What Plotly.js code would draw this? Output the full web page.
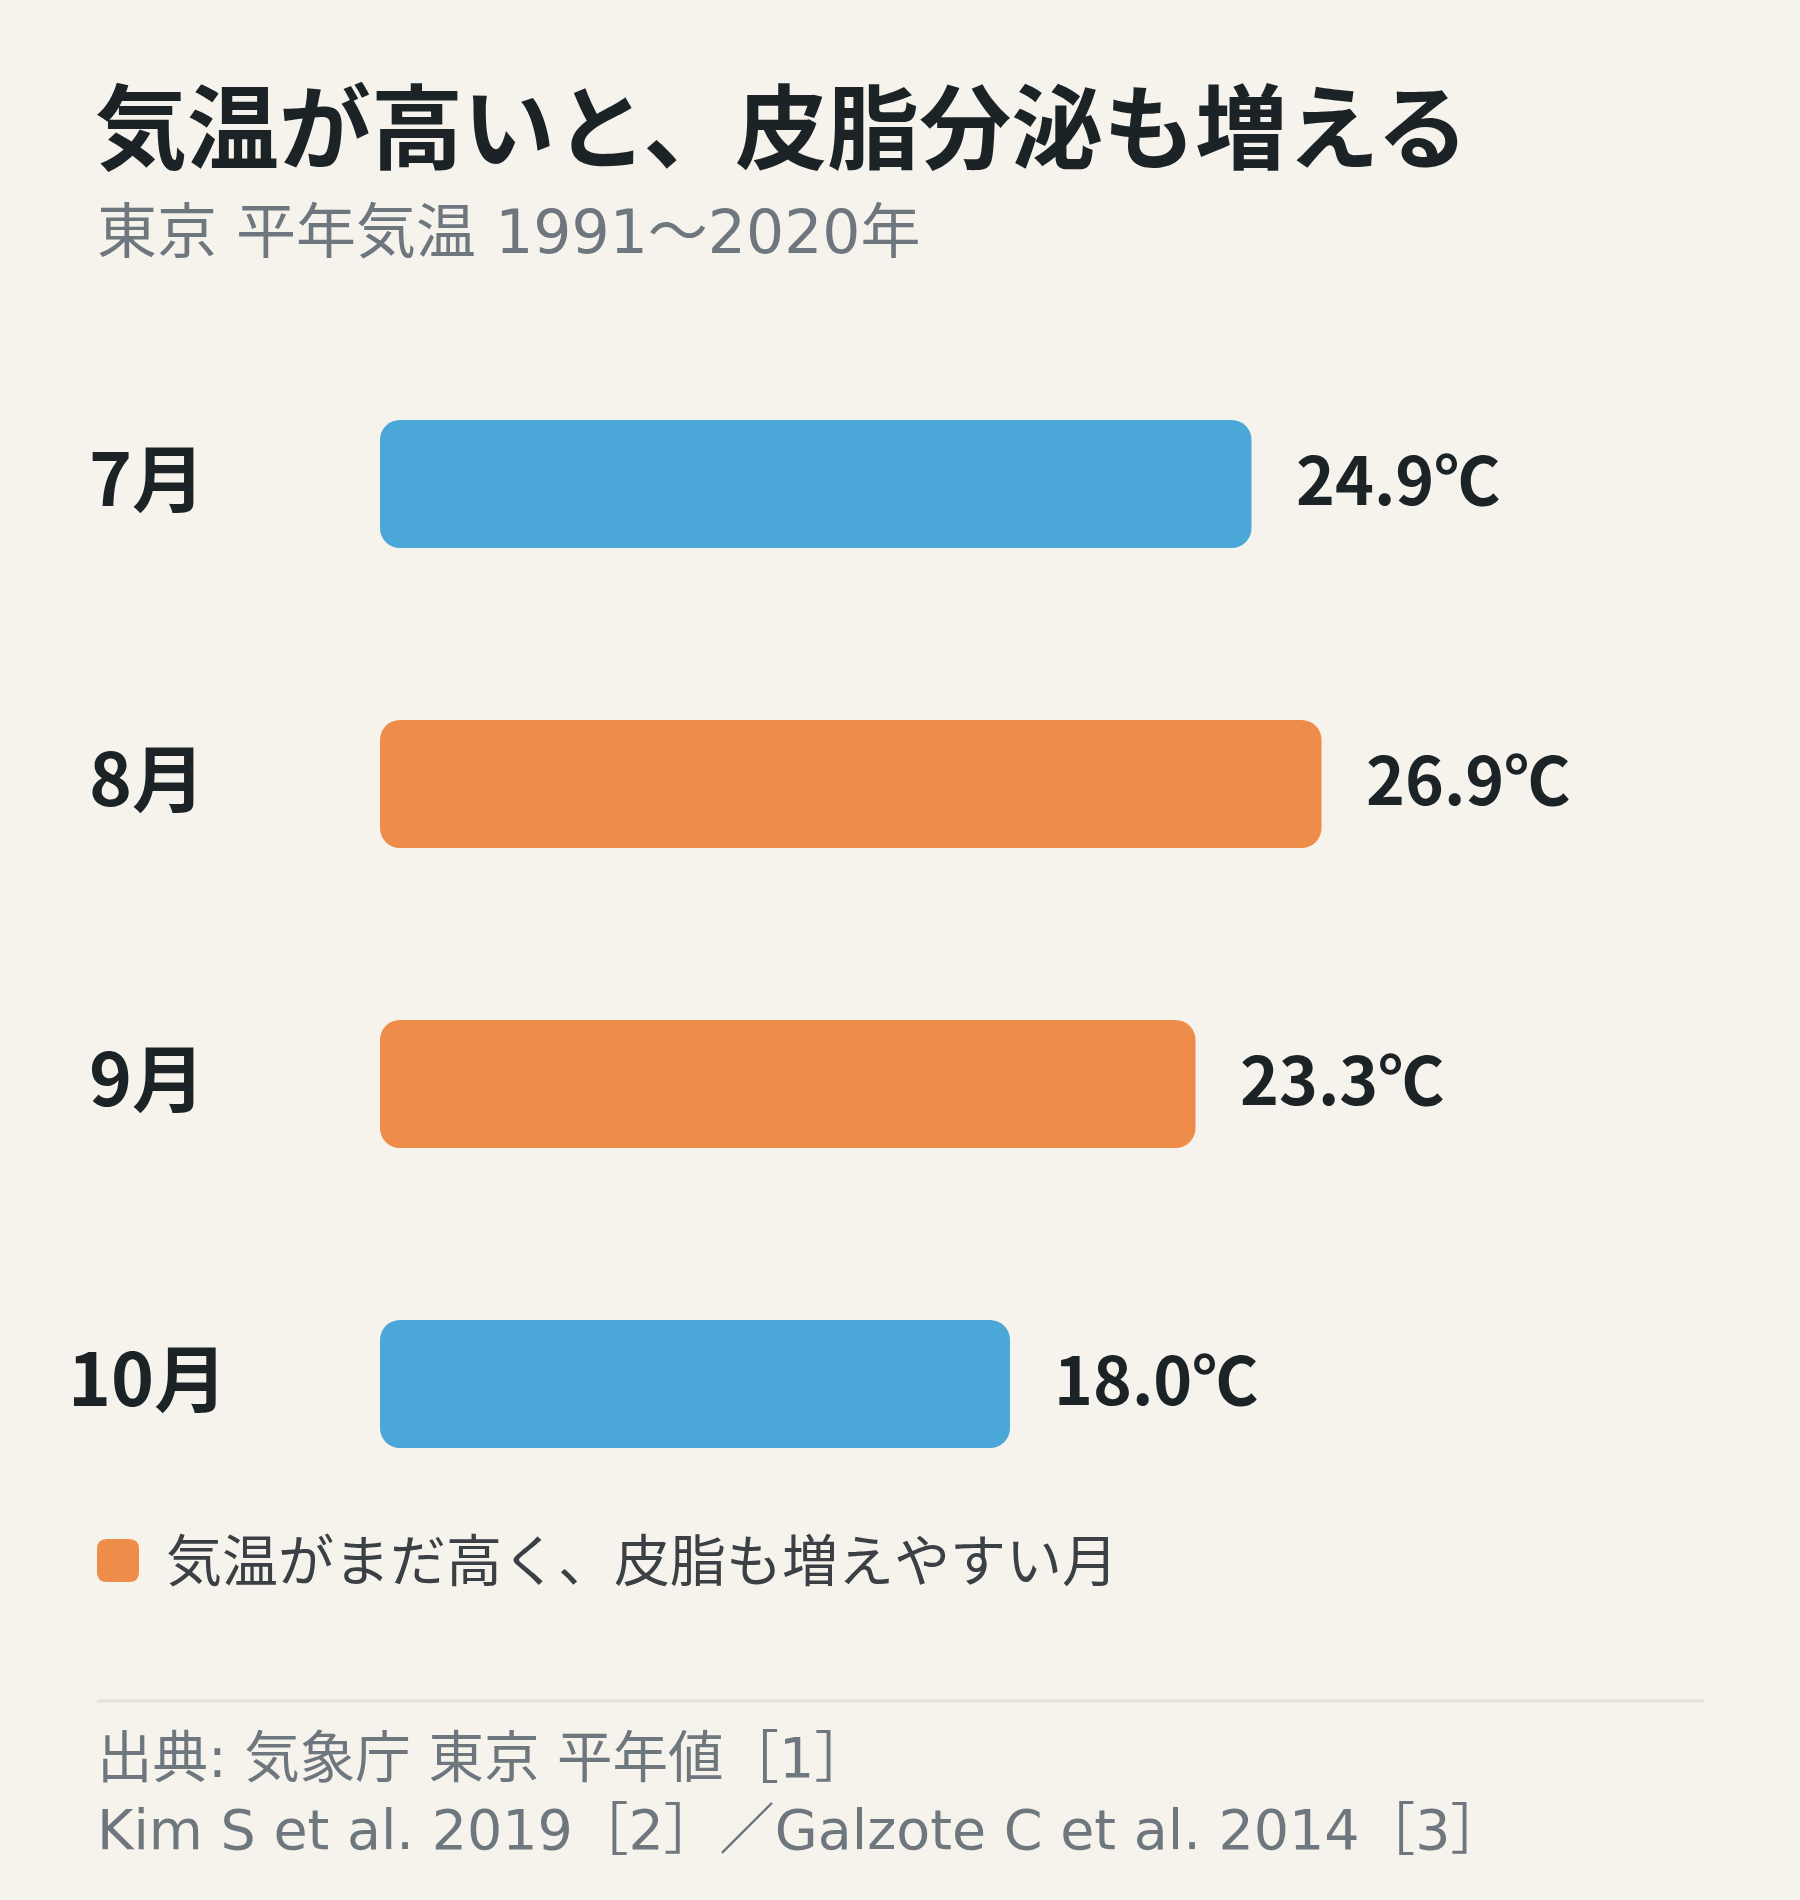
<!DOCTYPE html>
<html>
<head>
<meta charset="utf-8">
<script src="https://cdn.plot.ly/plotly-3.0.1.min.js"></script>
<style>
  html, body { margin: 0; padding: 0; background: #F6F2EC; }
  #chart { width: 1800px; height: 1900px; }
</style>
</head>
<body>
<div id="chart"></div>
<script>
// ---- data ----
const months = ["7月", "8月", "9月", "10月"];
const temps = [24.9, 26.9, 23.3, 18.0];
const highlight = [false, true, true, false];
const valueLabels = ["24.9℃", "26.9℃", "23.3℃", "18.0℃"];
const titleText = "気温が高いと、皮脂分泌も増える";
const subtitleText = "東京 平年気温 1991〜2020年";
const legendText = "気温がまだ高く、皮脂も増えやすい月";
const sourceLines = ["出典: 気象庁 東京 平年値［1］", "Kim S et al. 2019［2］／Galzote C et al. 2014［3］"];

// ---- style ----
const BLUE = "#4AA7D8", ORANGE = "#EE8C4A";
const DARK = "#1B2326", GRAY = "#6E777E";
const JP = "'Noto Sans CJK JP', 'Noto Sans', sans-serif";
const WIDEJP = "'DejaVu Sans', 'Noto Sans CJK JP', sans-serif";

const W = 1800, H = 1900;
const M = { l: 380, r: 0, t: 334, b: 366 };
const PW = W - M.l - M.r, PH = H - M.t - M.b;
const px = x => (x - M.l) / PW;          // pixel -> paper x
const py = y => (H - M.b - y) / PH;      // pixel -> paper y

const colors = highlight.map(h => h ? ORANGE : BLUE);
const R = 20;
const BW = 128 / 300;   // bar thickness as a fraction of the category band

// Each bar is drawn as two overlapping halves so that both ends get rounded corners:
// left part runs from 60% of the value back to 0 (rounded at 0),
// right part runs from 40% of the value out to the value (rounded at the value).
const leftPart = {
  type: "bar", orientation: "h",
  y: months,
  base: temps.map(v => v * 0.6),
  x: temps.map(v => -v * 0.6),
  width: BW,
  marker: { color: colors, cornerradius: R, line: { width: 0 } },
  hoverinfo: "skip", showlegend: false
};
const rightPart = {
  type: "bar", orientation: "h",
  y: months,
  base: temps.map(v => v * 0.4),
  x: temps.map(v => v * 0.6),
  width: BW,
  marker: { color: colors, cornerradius: R, line: { width: 0 } },
  hoverinfo: "skip", showlegend: false
};

const annotations = [];
// category labels
months.forEach((m) => {
  annotations.push({
    xref: "paper", yref: "y", x: px(147), y: m, yshift: 10,
    text: m, showarrow: false, xanchor: "center", yanchor: "middle",
    font: { family: JP, size: 73, color: DARK, weight: 700 }
  });
});
// value labels
temps.forEach((v, i) => {
  annotations.push({
    xref: "x", yref: "y", x: v, y: months[i], xshift: 42, yshift: 8,
    text: valueLabels[i], showarrow: false, xanchor: "left", yanchor: "middle",
    font: { family: JP, size: 66, color: DARK, weight: 700 }
  });
});
// subtitle
annotations.push({
  xref: "paper", yref: "paper", x: px(95), y: py(232),
  text: subtitleText, showarrow: false, xanchor: "left", yanchor: "middle",
  font: { family: WIDEJP, size: 60, color: GRAY }
});
// legend text
annotations.push({
  xref: "paper", yref: "paper", x: px(164), y: py(1556),
  text: legendText, showarrow: false, xanchor: "left", yanchor: "middle",
  font: { family: JP, size: 56, color: "#3A4044" }
});
// sources
annotations.push({
  xref: "paper", yref: "paper", x: px(95), y: py(1793),
  text: sourceLines.join("<br>"), showarrow: false, xanchor: "left", yanchor: "middle", align: "left",
  font: { family: WIDEJP, size: 55.5, color: GRAY }
});

// rounded legend swatch
function roundRect(x0, y0, x1, y1, r) {
  const X = v => px(v), Y = v => py(v);
  return `M ${X(x0 + r)} ${Y(y0)} L ${X(x1 - r)} ${Y(y0)} Q ${X(x1)} ${Y(y0)} ${X(x1)} ${Y(y0 + r)} ` +
         `L ${X(x1)} ${Y(y1 - r)} Q ${X(x1)} ${Y(y1)} ${X(x1 - r)} ${Y(y1)} ` +
         `L ${X(x0 + r)} ${Y(y1)} Q ${X(x0)} ${Y(y1)} ${X(x0)} ${Y(y1 - r)} ` +
         `L ${X(x0)} ${Y(y0 + r)} Q ${X(x0)} ${Y(y0)} ${X(x0 + r)} ${Y(y0)} Z`;
}

const shapes = [
  { type: "path", xref: "paper", yref: "paper", path: roundRect(97, 1539, 139, 1582, 10),
    fillcolor: ORANGE, line: { width: 0 } },
  { type: "line", xref: "paper", yref: "paper", x0: px(97), x1: px(1704), y0: py(1701), y1: py(1701),
    line: { color: "#E4E0DA", width: 3 } }
];

const layout = {
  width: W, height: H,
  paper_bgcolor: "#F6F2EC", plot_bgcolor: "#F6F2EC",
  margin: M,
  title: {
    text: titleText,
    xref: "container", yref: "container",
    x: 95 / W, y: 1 - 130 / H, xanchor: "left", yanchor: "middle",
    font: { family: JP, size: 92, color: DARK, weight: 700 }
  },
  xaxis: { range: [0, PW / 35], visible: false, fixedrange: true },
  yaxis: { autorange: "reversed", showticklabels: false, showgrid: false, zeroline: false,
           showline: false, ticks: "", fixedrange: true },
  barmode: "overlay",
  showlegend: false,
  annotations: annotations,
  shapes: shapes
};

Plotly.newPlot("chart", [leftPart, rightPart], layout, { displayModeBar: false, staticPlot: true });
</script>
</body>
</html>
